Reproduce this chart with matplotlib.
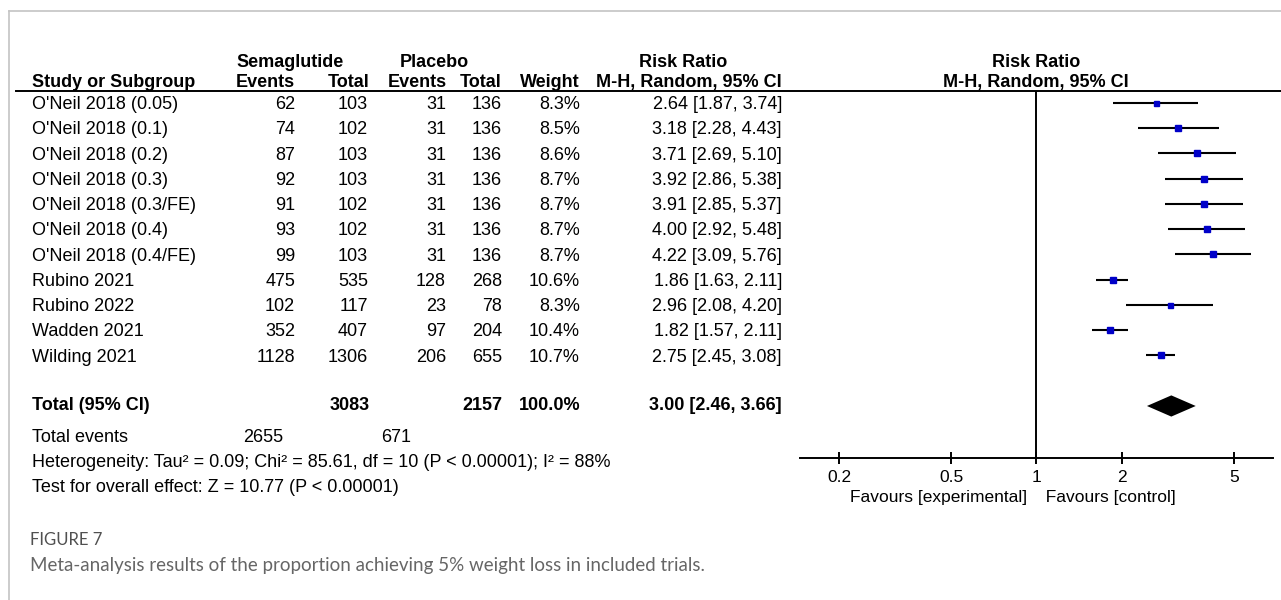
import matplotlib
matplotlib.use("Agg")
import matplotlib.pyplot as plt
import matplotlib.transforms as mtransforms
from matplotlib.lines import Line2D
from matplotlib.ticker import NullLocator
import numpy as np

studies = ["O'Neil 2018 (0.05)", "O'Neil 2018 (0.1)", "O'Neil 2018 (0.2)",
           "O'Neil 2018 (0.3)", "O'Neil 2018 (0.3/FE)", "O'Neil 2018 (0.4)",
           "O'Neil 2018 (0.4/FE)", "Rubino 2021", "Rubino 2022",
           "Wadden 2021", "Wilding 2021"]
sema_events = [62, 74, 87, 92, 91, 93, 99, 475, 102, 352, 1128]
sema_total = [103, 102, 103, 103, 102, 102, 103, 535, 117, 407, 1306]
plac_events = [31, 31, 31, 31, 31, 31, 31, 128, 23, 97, 206]
plac_total = [136, 136, 136, 136, 136, 136, 136, 268, 78, 204, 655]
weights = [8.3, 8.5, 8.6, 8.7, 8.7, 8.7, 8.7, 10.6, 8.3, 10.4, 10.7]
rr = [2.64, 3.18, 3.71, 3.92, 3.91, 4.00, 4.22, 1.86, 2.96, 1.82, 2.75]
rr_lo = [1.87, 2.28, 2.69, 2.86, 2.85, 2.92, 3.09, 1.63, 2.08, 1.57, 2.45]
rr_hi = [3.74, 4.43, 5.10, 5.38, 5.37, 5.48, 5.76, 2.11, 4.20, 2.11, 3.08]

total_sema_n = 3083
total_plac_n = 2157
total_sema_events = 2655
total_plac_events = 671
total_rr = [3.00, 2.46, 3.66]  # estimate, lower, upper

heterogeneity = "Heterogeneity: Tau\u00b2 = 0.09; Chi\u00b2 = 85.61, df = 10 (P < 0.00001); I\u00b2 = 88%"
overall = "Test for overall effect: Z = 10.77 (P < 0.00001)"
xticks = [0.2, 0.5, 1, 2, 5]
xtick_labels = ["0.2", "0.5", "1", "2", "5"]

W, H = 1281, 600
def fx(x):
    return x / W
def fy(y):
    return 1 - y / H

plt.rcParams['font.family'] = ['Liberation Sans', 'DejaVu Sans']
fig = plt.figure(figsize=(W / 100, H / 100), dpi=100)

# forest panel, rows are in row units
ax = fig.add_axes([fx(800), fy(458), fx(1273) - fx(800), fy(91) - fy(458)])
ax.set_xscale('log')
ax.set_xlim(0.1456, 6.87)
ax.set_ylim(14.06, -0.475)
for s in ['top', 'right', 'left']:
    ax.spines[s].set_visible(False)
ax.spines['bottom'].set_linewidth(1.4)
ax.set_yticks([])
ax.set_xticks(xticks)
ax.set_xticklabels(xtick_labels, fontsize=12.5)
ax.xaxis.set_minor_locator(NullLocator())
ax.tick_params(axis='x', direction='inout', length=9, width=1.4, pad=4)
ax.axvline(1, color='black', lw=1.4)

rows = np.arange(len(studies))
for i in rows:
    ax.plot([rr_lo[i], rr_hi[i]], [i, i], color='black', lw=1.5, solid_capstyle='butt')
    ax.plot(rr[i], i, marker='s', color='#0000c8', mec='#0000c8',
            markersize=3.6 * np.sqrt(weights[i] / 8.3))

total_row = 12
ax.fill([total_rr[1], total_rr[0], total_rr[2], total_rr[0]],
        [total_row, total_row - 0.42, total_row, total_row + 0.42],
        color='black', lw=0)

ax.text(1, 15.62, "Favours [experimental]  ", ha='right', va='center', fontsize=12.5,
        clip_on=False)
ax.text(1, 15.62, "  Favours [control]", ha='left', va='center', fontsize=12.5,
        clip_on=False)

trans = mtransforms.blended_transform_factory(fig.transFigure, ax.transData)

def cell(x, r, s, ha='right', **kw):
    ax.text(fx(x), r, s, transform=trans, ha=ha, va='center', fontsize=13,
            clip_on=False, **kw)

# headers
h1, h2 = -1.62, -0.83
cell(290, h1, "Semaglutide", ha='center', weight='bold')
cell(434, h1, "Placebo", ha='center', weight='bold')
cell(683, h1, "Risk Ratio", ha='center', weight='bold')
cell(1036, h1, "Risk Ratio", ha='center', weight='bold')
cell(32, h2, "Study or Subgroup", ha='left', weight='bold')
cell(295, h2, "Events", weight='bold')
cell(370, h2, "Total", weight='bold')
cell(447, h2, "Events", weight='bold')
cell(502, h2, "Total", weight='bold')
cell(580, h2, "Weight", weight='bold')
cell(782, h2, "M-H, Random, 95% CI", weight='bold')
cell(1036, h2, "M-H, Random, 95% CI", ha='center', weight='bold')

for i in rows:
    cell(32, i + 0.06, studies[i], ha='left')
    cell(295, i + 0.06, str(sema_events[i]))
    cell(368, i + 0.06, str(sema_total[i]))
    cell(446, i + 0.06, str(plac_events[i]))
    cell(502, i + 0.06, str(plac_total[i]))
    cell(580, i + 0.06, "%.1f%%" % weights[i])
    cell(782, i + 0.06, "%.2f [%.2f, %.2f]" % (rr[i], rr_lo[i], rr_hi[i]))

narrow = ['Liberation Sans Narrow', 'Liberation Sans', 'DejaVu Sans']
cell(32, total_row, "Total (95% CI)", ha='left', weight='bold', family=narrow)
cell(370, total_row, str(total_sema_n), weight='bold', family=narrow)
cell(502, total_row, str(total_plac_n), weight='bold', family=narrow)
cell(580, total_row, "100.0%", weight='bold', family=narrow)
cell(782, total_row, "%.2f [%.2f, %.2f]" % tuple(total_rr), weight='bold', family=narrow)
cell(32, 13.23, "Total events", ha='left', family=narrow)
cell(283, 13.23, str(total_sema_events), family=narrow)
cell(411, 13.23, str(total_plac_events), family=narrow)
cell(32, 14.22, heterogeneity, ha='left', family=narrow)
cell(32, 15.21, overall, ha='left', family=narrow)

# header rule and frame
fig.add_artist(Line2D([fx(16), 1], [fy(91), fy(91)], color='black', lw=1.4))
fig.add_artist(Line2D([fx(9), 1], [fy(10.5), fy(10.5)], color='#c4c4c4', lw=1.2))
fig.add_artist(Line2D([fx(9), fx(9)], [fy(10.5), 0], color='#c4c4c4', lw=1.2))

fig.text(fx(30), fy(540), "FIGURE 7", ha='left', va='center', fontsize=12,
         color='#505050', family=['Lato', 'DejaVu Sans'])
fig.text(fx(30), fy(566), "Meta-analysis results of the proportion achieving 5% weight loss in included trials.",
         ha='left', va='center', fontsize=13.5, color='#666666', family=['Lato', 'DejaVu Sans'])

fig.savefig("out.png", dpi=100)
